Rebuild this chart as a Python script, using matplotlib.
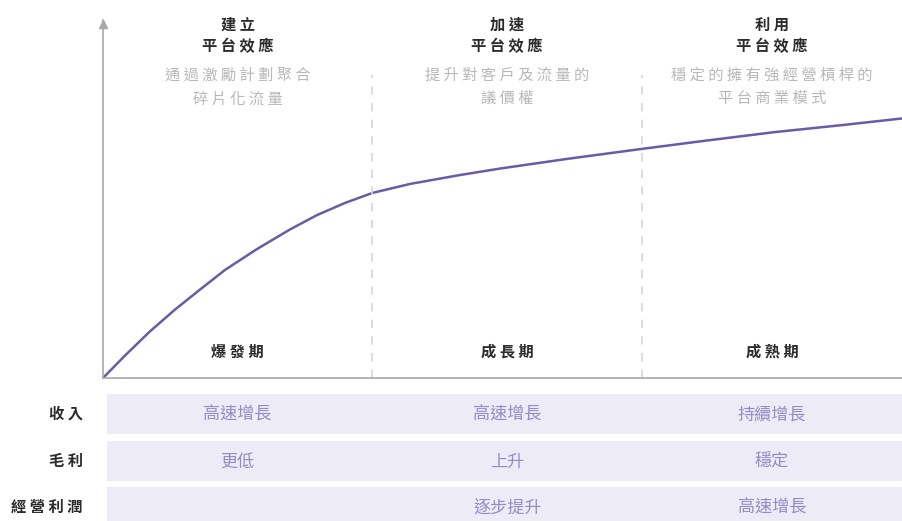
import numpy as np
import matplotlib
matplotlib.use("Agg")
import matplotlib.pyplot as plt

plt.rcParams["font.family"] = ["Noto Sans CJK TC", "DejaVu Sans"]

# curve (x in phase units, y in % of axis height)
curve_x = [0, 0.082, 0.174, 0.267, 0.360, 0.453, 0.571, 0.694, 0.794, 0.898, 1.0,
           1.139, 1.325, 1.473, 1.722, 2.0, 2.237, 2.494, 2.750, 2.965]
curve_y = [0, 6.3, 13.0, 19.1, 24.7, 30.2, 36.0, 41.5, 45.5, 48.9, 51.7,
           54.2, 56.7, 58.5, 61.2, 64.0, 66.3, 68.7, 70.7, 72.5]

titles = ["建立\n平台效應", "加速\n平台效應", "利用\n平台效應"]
subtitles = ["通過激勵計劃聚合\n碎片化流量", "提升對客戶及流量的\n議價權", "穩定的擁有強經營槓桿的\n平台商業模式"]
stages = ["爆發期", "成長期", "成熟期"]
row_labels = ["收入", "毛利", "經營利潤"]
cells = [["高速增長", "高速增長", "持續增長"],
         ["更低", "上升", "穩定"],
         ["", "逐步提升", "高速增長"]]

LINE = "#6a5aa8"
BAND = "#edebf5"
CELL_TXT = "#958bc6"
AXIS = "#a8a8a8"
GRAY_TXT = "#b8b8b8"
DARK = "#2b2b2b"


def spaced(s, sep=" "):
    return "\n".join(sep.join(line) for line in s.split("\n"))


W, H = 902, 521
fig = plt.figure(figsize=(W / 100, H / 100), dpi=100)
xmax = 2.965

ax = fig.add_axes([103 / W, (H - 378) / H, (W - 103) / W, 358 / H])
ax.set_xlim(0, xmax)
ax.set_ylim(0, 100)
for s in ["top", "right"]:
    ax.spines[s].set_visible(False)
for s in ["left", "bottom"]:
    ax.spines[s].set_color(AXIS)
    ax.spines[s].set_linewidth(1.2)
ax.set_xticks([])
ax.set_yticks([])
ax.plot(0, 99, marker="^", color=AXIS, markersize=6, clip_on=False)

ax.plot(curve_x, curve_y, color=LINE, lw=1.8, solid_capstyle="round",
        solid_joinstyle="round")

for xd in [1, 2]:
    ax.plot([xd, xd], [0, 84.6], color="#d6d6d6", lw=1.2, ls=(0, (5, 5)))

centers = [0.5, 1.5, (2 + xmax) / 2]
for c, t, st, sg in zip(centers, titles, subtitles, stages):
    ax.text(c, 95.7, spaced(t), ha="center", va="center", fontsize=11,
            fontweight="bold", color=DARK, linespacing=1.42, clip_on=False)
    ax.text(c, 81.3, spaced(st), ha="center", va="center", fontsize=11,
            color=GRAY_TXT, linespacing=1.52)
    ax.text(c, 7.3, spaced(sg), ha="center", va="center", fontsize=11,
            fontweight="bold", color=DARK)

# table of metrics under the chart
tab = fig.add_axes([103 / W, 0, (W - 103) / W, 131 / H])
tab.set_xlim(0, xmax)
tab.set_ylim(2.30, -0.516)
tab.axis("off")
for i, (lab, row) in enumerate(zip(row_labels, cells)):
    tab.barh(i, xmax - 0.015, left=0.015, height=0.86, color=BAND, lw=0)
    tab.text(-0.075, i, spaced(lab), ha="right", va="center", fontsize=11,
             fontweight="bold", color=DARK, clip_on=False)
    for c, v in zip(centers, row):
        tab.text(c, i + 0.02, v, ha="center", va="center", fontsize=12.3,
                 color=CELL_TXT)

fig.savefig("out.png", dpi=100)
